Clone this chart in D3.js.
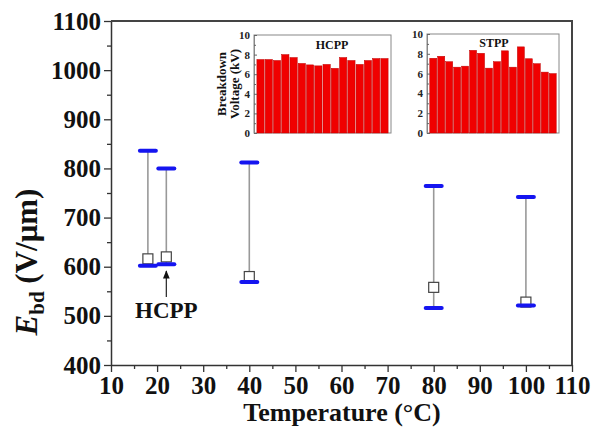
<!DOCTYPE html>
<html>
<head>
<meta charset="utf-8">
<script src="https://cdn.jsdelivr.net/npm/d3@7"></script>
<style>
  html, body { margin: 0; padding: 0; background: #fff; }
  svg { display: block; }
  svg text { font-family: "Liberation Serif", "Times New Roman", serif; font-weight: bold; }
</style>
</head>
<body>
<svg id="chart" width="592" height="429"></svg>
<script>
// Breakdown strength vs. temperature
const temperatures = [18, 22, 40, 80, 100];
const ebdMax  = [836, 800, 812, 764, 742];
const ebdMin  = [602, 605, 569, 516, 521];
const ebdMean = [616, 620, 580, 558, 528];

// Inset: breakdown voltage of individual samples (kV)
const hcppBreakdown = [7.5, 7.5, 7.4, 8.0, 7.7, 7.1, 6.95, 6.85, 7.0, 6.6, 7.7, 7.4, 7.0, 7.4, 7.6, 7.6];
const stppBreakdown = [7.55, 7.75, 7.2, 6.65, 6.75, 8.35, 8.05, 6.55, 7.2, 8.3, 6.65, 8.7, 7.5, 7.0, 6.15, 6.0];

const xTicks = [10, 20, 30, 40, 50, 60, 70, 80, 90, 100, 110];
const yTicks = [400, 500, 600, 700, 800, 900, 1000, 1100];
const insetTicks = [0, 2, 4, 6, 8, 10];

const svg = d3.select("#chart");
const plot = { left: 111, right: 572, top: 21, bottom: 365 };

const x = d3.scaleLinear().domain([10, 110]).range([plot.left, plot.right]);
const y = d3.scaleLinear().domain([400, 1100]).range([plot.bottom, plot.top]);
const fmt = d3.format("d");

// minor ticks
const xMinor = d3.range(15, 110, 10);
const yMinor = d3.range(450, 1100, 100);

svg.append("g")
  .attr("transform", `translate(0,${plot.bottom})`)
  .call(d3.axisBottom(x).tickValues(xMinor).tickSize(4).tickFormat(""))
  .call(g => g.select(".domain").remove())
  .selectAll("line").attr("stroke", "#333").attr("stroke-width", 1.3);

svg.append("g")
  .attr("transform", `translate(${plot.left},0)`)
  .call(d3.axisLeft(y).tickValues(yMinor).tickSize(4).tickFormat(""))
  .call(g => g.select(".domain").remove())
  .selectAll("line").attr("stroke", "#333").attr("stroke-width", 1.3);

const xAxis = svg.append("g")
  .attr("transform", `translate(0,${plot.bottom})`)
  .call(d3.axisBottom(x).tickValues(xTicks).tickFormat(fmt).tickSize(7).tickPadding(4).tickSizeOuter(0));

const yAxis = svg.append("g")
  .attr("transform", `translate(${plot.left},0)`)
  .call(d3.axisLeft(y).tickValues(yTicks).tickFormat(fmt).tickSize(7).tickPadding(3).tickSizeOuter(0));

[xAxis, yAxis].forEach(a => {
  a.attr("font-family", null).attr("font-size", null);
  a.selectAll("text").style("font-size", "25px").attr("fill", "#111");
  a.select(".domain").attr("stroke", "#333").attr("stroke-width", 1.5);
  a.selectAll(".tick line").attr("stroke", "#333").attr("stroke-width", 1.3);
});

// frame top and right
svg.append("path")
  .attr("d", `M${plot.left},${plot.top}H${plot.right}V${plot.bottom}`)
  .attr("fill", "none").attr("stroke", "#444").attr("stroke-width", 2);

// axis titles
svg.append("text")
  .attr("x", 342).attr("y", 421)
  .attr("text-anchor", "middle").style("font-size", "26px").attr("fill", "#111")
  .text("Temperature (°C)");

const yTitle = svg.append("text")
  .attr("transform", "translate(37,262) rotate(-90)")
  .attr("text-anchor", "middle").style("font-size", "31px").attr("fill", "#111");
yTitle.append("tspan").style("font-style", "italic").text("E");
yTitle.append("tspan").style("font-size", "21px").attr("dy", 7).text("bd");
yTitle.append("tspan").attr("dy", -7).text(" (V/μm)");

// range bars
const series = temperatures.map((t, i) => ({ t, max: ebdMax[i], min: ebdMin[i], mean: ebdMean[i] }));
const g = svg.append("g");
g.selectAll("line.range").data(series).join("line")
  .attr("x1", d => x(d.t)).attr("x2", d => x(d.t))
  .attr("y1", d => y(d.max)).attr("y2", d => y(d.min))
  .attr("stroke", "#999").attr("stroke-width", 1.6);
g.selectAll("rect.mean").data(series).join("rect")
  .attr("x", d => x(d.t) - 5).attr("y", d => y(d.mean) - 5)
  .attr("width", 10).attr("height", 10)
  .attr("fill", "#fff").attr("stroke", "#444").attr("stroke-width", 1.2);
["max", "min"].forEach(k => {
  g.selectAll("line.cap-" + k).data(series).join("line")
    .attr("x1", d => x(d.t) - 8).attr("x2", d => x(d.t) + 8)
    .attr("y1", d => y(d[k])).attr("y2", d => y(d[k]))
    .attr("stroke", "#1515f0").attr("stroke-width", 4).attr("stroke-linecap", "round");
});

// annotation
svg.append("defs").append("marker")
  .attr("id", "arrow").attr("viewBox", "0 0 10 10").attr("refX", 9).attr("refY", 5)
  .attr("markerWidth", 7).attr("markerHeight", 7).attr("orient", "auto")
  .append("path").attr("d", "M0,1L10,5L0,9Z").attr("fill", "#111");
svg.append("line")
  .attr("x1", x(22)).attr("x2", x(22)).attr("y1", 297).attr("y2", 271)
  .attr("stroke", "#222").attr("stroke-width", 1.2).attr("marker-end", "url(#arrow)");
svg.append("text")
  .attr("x", x(22)).attr("y", 318).attr("text-anchor", "middle")
  .style("font-size", "23px").attr("fill", "#111").text("HCPP");

// insets
function inset(values, box, label, showTitle) {
  const ig = svg.append("g");
  const xs = d3.scaleBand().domain(d3.range(values.length))
    .range([box.left, box.right]).paddingInner(0.12).paddingOuter(0.35);
  const ys = d3.scaleLinear().domain([0, 10]).range([box.bottom, box.top]);
  ig.append("rect")
    .attr("x", box.left).attr("y", box.top)
    .attr("width", box.right - box.left).attr("height", box.bottom - box.top)
    .attr("fill", "#fff").attr("stroke", "#888").attr("stroke-width", 1);
  ig.selectAll("rect.bar").data(values).join("rect")
    .attr("x", (d, i) => xs(i)).attr("width", xs.bandwidth())
    .attr("y", d => ys(d)).attr("height", d => ys(0) - ys(d))
    .attr("fill", "#f00000").attr("stroke", "#c00000").attr("stroke-width", 0.5);
  const ax = ig.append("g").attr("transform", `translate(${box.left},0)`)
    .call(d3.axisLeft(ys).tickValues(insetTicks).tickSize(-3).tickPadding(4));
  ax.attr("font-family", null).attr("font-size", null);
  ax.select(".domain").attr("stroke", "#888");
  ax.selectAll(".tick line").attr("stroke", "#666");
  ax.selectAll("text").style("font-size", "11px").attr("fill", "#222");
  ig.append("g").attr("transform", `translate(${box.left},0)`)
    .call(d3.axisLeft(ys).tickValues(d3.range(1, 10, 2)).tickSize(-2).tickFormat(""))
    .call(a => a.select(".domain").remove())
    .selectAll("line").attr("stroke", "#666");
  ig.append("text")
    .attr("x", label.x).attr("y", label.y).attr("text-anchor", "middle")
    .style("font-size", "12px").attr("fill", "#111").text(label.text);
  if (showTitle) {
    const t = ig.append("text")
      .attr("transform", `translate(226,${(box.top + box.bottom) / 2}) rotate(-90)`)
      .attr("text-anchor", "middle").style("font-size", "13px").attr("fill", "#111");
    t.append("tspan").attr("x", 0).attr("dy", 0).text("Breakdown");
    t.append("tspan").attr("x", 0).attr("dy", 12.5).text("Voltage (kV)");
  }
}

inset(hcppBreakdown, { left: 254, right: 391, top: 35, bottom: 133 },
  { x: 332, y: 49, text: "HCPP" }, true);
inset(stppBreakdown, { left: 427, right: 559, top: 34, bottom: 133 },
  { x: 494, y: 47, text: "STPP" }, false);
</script>
</body>
</html>
